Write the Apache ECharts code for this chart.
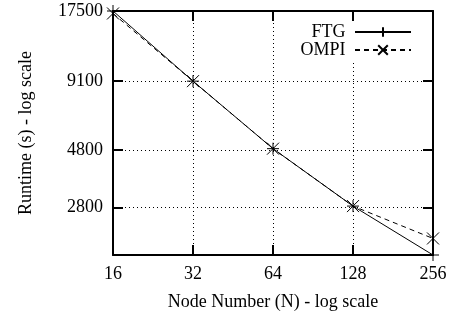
<!DOCTYPE html>
<html>
<head>
<meta charset="UTF-8">
<title>Runtime vs node number</title>
<style>
  html, body { margin: 0; padding: 0; background: #fff; }
  #chart { width: 451px; height: 316px; }
</style>
<script src="https://cdn.jsdelivr.net/npm/echarts@6/dist/echarts.min.js"></script>
</head>
<body>
<div id="chart"></div>
<script>
// data
var nodes = [16, 32, 64, 128, 256];
var ftg = [17500, 9100, 4850, 2840, 1800];
var ompi = [17100, 9100, 4850, 2840, 2100];
var yTicks = [2800, 4800, 9100, 17500];
var yMin = 1800, yMax = 17500;

var font = 'Liberation Serif';

// both axes are log scale: map values to log space, labels map back
function pts(vals) {
    return nodes.map(function (n, i) { return [Math.log2(n), Math.log10(vals[i])]; });
}
var yTickLog = yTicks.map(function (v) { return Math.log10(v); });

var border = { show: true, onZero: false, lineStyle: { color: '#000', width: 2 } };
var tick = { show: true, inside: true, length: 10, lineStyle: { color: '#000', width: 2 } };
var grid = { show: true, lineStyle: { color: '#000', width: 1, type: [1, 3] } };
var labelStyle = { color: '#000', fontFamily: font, fontSize: 18 };

var xBase = {
    type: 'value', min: 4, max: 8, interval: 1,
    axisLine: border, axisTick: tick
};
var yBase = {
    type: 'value', min: Math.log10(yMin), max: Math.log10(yMax),
    axisLine: border,
    axisTick: Object.assign({ customValues: yTickLog }, tick)
};

var chart = echarts.init(document.getElementById('chart'));
chart.setOption({
    animation: false,
    grid: { left: 113, right: 18, top: 11, bottom: 59 },
    legend: {
        orient: 'vertical', align: 'right',
        right: 37, top: 22,
        padding: [1, 2, 1, 4], itemGap: 0,
        itemWidth: 56, itemHeight: 12,
        backgroundColor: '#fff',
        formatter: function (name) { return name + ' '; },
        textStyle: { color: '#000', fontFamily: font, fontSize: 18, lineHeight: 18 },
        data: ['FTG', 'OMPI']
    },
    xAxis: [
        Object.assign({}, xBase, {
            position: 'bottom',
            splitLine: grid,
            axisLabel: Object.assign({
                margin: 10,
                formatter: function (v) { return Math.round(Math.pow(2, v)); }
            }, labelStyle),
            name: 'Node Number (N) - log scale',
            nameLocation: 'middle', nameGap: 38,
            nameTextStyle: labelStyle
        }),
        Object.assign({}, xBase, {
            position: 'top',
            splitLine: { show: false },
            axisLabel: { show: false }
        })
    ],
    yAxis: [
        Object.assign({}, yBase, {
            position: 'left',
            splitLine: grid,
            axisLabel: Object.assign({
                margin: 10,
                customValues: yTickLog,
                formatter: function (v) { return Math.round(Math.pow(10, v)); }
            }, labelStyle),
            name: 'Runtime (s) - log scale',
            nameLocation: 'middle', nameGap: 78, nameRotate: 90,
            nameTextStyle: labelStyle
        }),
        Object.assign({}, yBase, {
            position: 'right',
            splitLine: { show: false },
            axisLabel: { show: false }
        })
    ],
    series: [
        {
            name: 'FTG', type: 'line', clip: false,
            data: pts(ftg),
            symbol: 'path://M0,5L10,5M5,0L5,10', symbolSize: 12,
            lineStyle: { color: '#000', width: 1 },
            itemStyle: { color: '#000', borderColor: '#000', borderWidth: 1 }
        },
        {
            name: 'OMPI', type: 'line', clip: false,
            data: pts(ompi),
            symbol: 'path://M0,0L10,10M10,0L0,10', symbolSize: 12,
            lineStyle: { color: '#000', width: 1, type: [5, 4] },
            itemStyle: { color: '#000', borderColor: '#000', borderWidth: 1 }
        }
    ]
});
</script>
</body>
</html>
